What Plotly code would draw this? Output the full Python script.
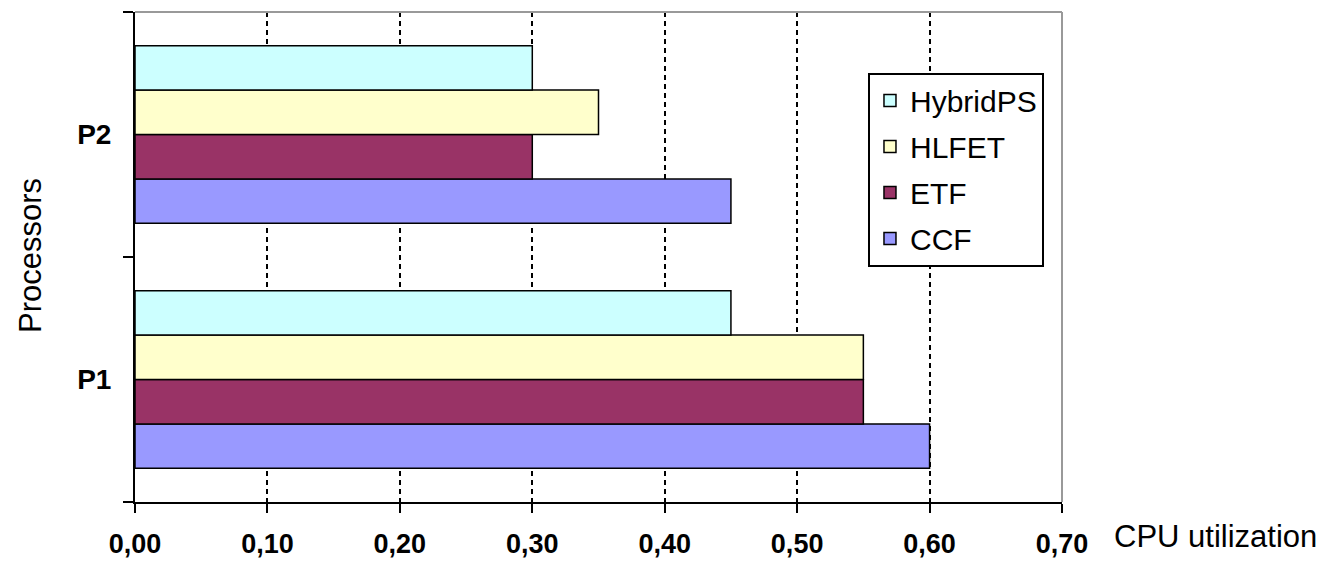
import plotly.graph_objects as go

processors = ["P1", "P2"]
series_names = ["CCF", "ETF", "HLFET", "HybridPS"]
ccf = [0.60, 0.45]
etf = [0.55, 0.30]
hlfet = [0.55, 0.35]
hybridps = [0.45, 0.30]
series_values = [ccf, etf, hlfet, hybridps]
colors = ["#9999FF", "#993366", "#FFFFCC", "#CCFFFF"]
legend_ranks = [4, 3, 2, 1]
x_ticks = [0.0, 0.1, 0.2, 0.3, 0.4, 0.5, 0.6, 0.7]

FONT = "Arial, Liberation Sans, sans-serif"

fig = go.Figure()
for name, vals, col, rank in zip(series_names, series_values, colors, legend_ranks):
    fig.add_trace(go.Bar(
        y=processors, x=vals, name=name, orientation="h",
        marker=dict(color=col, line=dict(color="black", width=1.5)),
        legendgroup=name, legendrank=rank,
    ))

fig.update_layout(
    width=1321, height=555,
    margin=dict(l=127, r=267, t=4, b=57),
    paper_bgcolor="white", plot_bgcolor="white",
    barmode="group", bargap=0.275, bargroupgap=0,
    separators=", ",
    font=dict(family=FONT, color="black"),
    showlegend=True,
    legend=dict(
        x=0.7907, y=0.8765, xanchor="left", yanchor="top",
        bgcolor="white", bordercolor="black", borderwidth=2,
        font=dict(size=30, family=FONT, color="black"),
        traceorder="grouped", tracegroupgap=4, itemwidth=30,
    ),
    xaxis=dict(
        range=[0, 0.7], tickvals=x_ticks, tickformat=".2f",
        showgrid=True, gridcolor="black", gridwidth=1.5, griddash="5px,4px",
        showline=True, linecolor="black", linewidth=2,
        ticks="outside", ticklen=9, tickwidth=2, tickcolor="black",
        tickfont=dict(size=27, family=FONT, color="black", weight="bold"),
        ticklabelstandoff=8,
        zeroline=False, fixedrange=True,
    ),
    yaxis=dict(
        categoryorder="array", categoryarray=processors,
        showgrid=False, showline=True, linecolor="black", linewidth=2,
        ticks="outside", ticklen=10, tickwidth=2, tickcolor="black",
        tickson="boundaries",
        tickfont=dict(size=28, family=FONT, color="black", weight="bold"),
        ticklabelstandoff=16,
        zeroline=False, fixedrange=True,
    ),
    shapes=[
        dict(type="line", xref="paper", yref="paper", x0=0, x1=1, y0=1, y1=1,
             line=dict(color="#999999", width=2)),
        dict(type="line", xref="paper", yref="paper", x0=1, x1=1, y0=0, y1=1,
             line=dict(color="#999999", width=2)),
    ],
    annotations=[
        dict(text="CPU utilization", xref="paper", yref="paper",
             x=(1112 - 135) / 927, y=(506 - 541) / 494,
             xanchor="left", yanchor="middle", showarrow=False,
             font=dict(size=31, family=FONT, color="black")),
        dict(text="Processors", xref="paper", yref="paper",
             x=(30 - 135) / 927, y=(506 - 258) / 494, textangle=-90,
             xanchor="center", yanchor="middle", showarrow=False,
             font=dict(size=31, family=FONT, color="black")),
    ],
)

fig.write_html("out.html")
